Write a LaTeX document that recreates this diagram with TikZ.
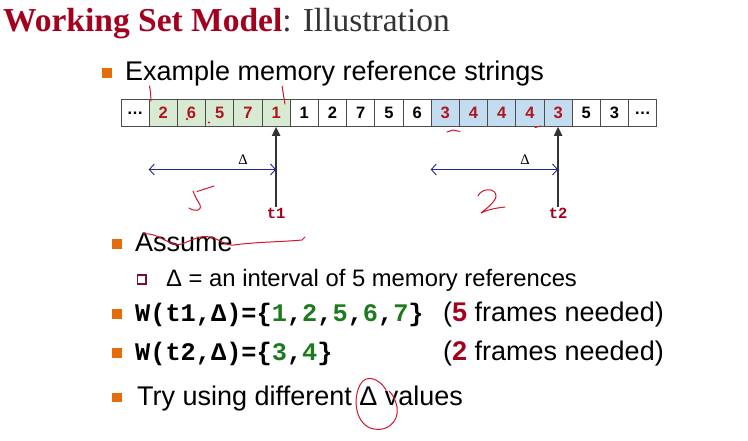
\documentclass[tikz,border=0pt]{standalone}
\usepackage{fontspec}
\setmainfont{Liberation Sans}
\newfontfamily\titlefont{Liberation Serif}
\newfontfamily\codefont{Liberation Mono}
\usetikzlibrary{arrows.meta,positioning,calc}
\definecolor{slidered}{HTML}{A3001E}
\definecolor{slidegray}{HTML}{333333}
\definecolor{bulletorange}{HTML}{E46C0A}
\definecolor{subbullet}{HTML}{7A1030}
\definecolor{cellgreen}{HTML}{D8EAD2}
\definecolor{cellblue}{HTML}{C4DCF0}
\definecolor{numred}{HTML}{B0141E}
\definecolor{setgreen}{HTML}{1E7A1E}
\definecolor{deltablue}{HTML}{23288C}
\definecolor{inkred}{HTML}{D4152B}

\tikzset{
  txt/.style={anchor=base west,inner sep=0pt,font=\fontsize{27}{32}\selectfont},
  subtxt/.style={anchor=base west,inner sep=0pt,font=\fontsize{23.8}{28}\selectfont},
  codetxt/.style={anchor=base west,inner sep=0pt,font=\codefont\bfseries\fontsize{25.3}{30}\selectfont},
  bulletsq/.style={fill=bulletorange,minimum size=9.5pt,inner sep=0pt},
  cell/.style={draw=black!70,line width=1pt,minimum width=28.2pt,minimum height=26.5pt,inner sep=0pt,font=\bfseries\fontsize{16.5}{17}\selectfont},
  timelbl/.style={text=slidered,inner sep=1pt,font=\codefont\bfseries\fontsize{15.5}{16}\selectfont},
  timearrow/.style={draw=black!80,line width=2pt,-{Triangle[length=9pt,width=8pt]}},
  deltaarrow/.style={draw=deltablue,line width=0.9pt,{Straight Barb[length=5pt,width=11pt]}-{Straight Barb[length=5pt,width=11pt]}},
  deltalbl/.style={inner sep=0pt,font=\titlefont\fontsize{14.5}{15}\selectfont},
  ink/.style={draw=inkred,line width=1pt,line cap=round,line join=round}
}

\begin{document}
\begin{tikzpicture}[x=1pt,y=-1pt]
  \useasboundingbox (0,0) rectangle (748,440);

  \node[anchor=base west,inner sep=0pt,font=\titlefont\fontsize{33.5}{40}\selectfont] (title) at (3,31.7)
    {\textcolor{slidered}{\bfseries Working Set Model}\textcolor{slidegray}{: Illustration}};

  \node[bulletsq,minimum size=10pt] (b0) at (106.7,73) {};
  \node[txt] (example) at (125,80.7) {Example memory reference strings};

  \foreach \val/\bg/\fg [count=\i from 0] in {…/white/black,
      2/cellgreen/numred,6/cellgreen/numred,5/cellgreen/numred,7/cellgreen/numred,1/cellgreen/numred,
      1/white/black,2/white/black,7/white/black,5/white/black,6/white/black,
      3/cellblue/numred,4/cellblue/numred,4/cellblue/numred,4/cellblue/numred,3/cellblue/numred,
      5/white/black,3/white/black,…/white/black}
    \node[cell,fill=\bg,text=\fg] (c\i) at ({121+(\i+0.5)*28.2},113) {\val};

  \node[timelbl] (t1) at (c5.center |- 0,213) {t1};
  \node[timelbl] (t2) at (c15.center |- 0,213) {t2};
  \draw[timearrow] (t1.north) -- (c5.south);
  \draw[timearrow] (t2.north) -- (c15.south);

  \coordinate (d1l) at (c1.south west |- 0,169.5);
  \coordinate (d1r) at (c5.south |- 0,169.5);
  \coordinate (d2l) at (c11.south west |- 0,169.5);
  \coordinate (d2r) at (c15.south |- 0,169.5);
  \draw[deltaarrow] (d1l) -- (d1r);
  \draw[deltaarrow] (d2l) -- (d2r);
  \node[deltalbl] (delta1) at ($(d1r)+(-33,-9.5)$) {Δ};
  \node[deltalbl] (delta2) at ($(d2r)+(-33,-9.5)$) {Δ};

  \node[bulletsq] (b1) at (117,244) {};
  \node[txt] (assume) at (135,251.7) {Assume};

  \node[draw=subbullet,line width=1.6pt,fill=white,minimum size=8.5pt,inner sep=0pt] (b2) at (141.7,279.5) {};
  \node[subtxt] (interval) at (166,286.7) {Δ = an interval of 5 memory references};

  \node[bulletsq] (b3) at (117,314) {};
  \node[codetxt] (w1) at (135,321.7)
    {W(t1,Δ)=\{\textcolor{setgreen}{1},\textcolor{setgreen}{2},\textcolor{setgreen}{5},\textcolor{setgreen}{6},\textcolor{setgreen}{7}\}};
  \node[txt] (n1) at (443,321.7) {(\textcolor{slidered}{\bfseries 5} frames needed)};

  \node[bulletsq] (b4) at (117,353) {};
  \node[codetxt] (w2) at (135,360.7)
    {W(t2,Δ)=\{\textcolor{setgreen}{3},\textcolor{setgreen}{4}\}};
  \node[txt] (n2) at (443,360.7) {(\textcolor{slidered}{\bfseries 2} frames needed)};

  \node[bulletsq] (b5) at (117,397.5) {};
  \node[txt] (try) at (137,405) {Try using different Δ values};

  \draw[ink] (149.5,86) .. controls (150.5,92) .. (151,101);
  \draw[ink] (282,86) .. controls (283.5,95) .. (285,104);
  \fill[inkred] (187,119) circle (1.3);
  \fill[inkred] (209,122.5) circle (1.1);
  \draw[ink] (447,132) -- (453,130) -- (460,131.5);
  \draw[ink] (535,127.5) -- (541,126);
  \draw[ink] (214,186) -- (197,191.5);
  \draw[ink] (193,191) .. controls (195,197) and (198,201) .. (200,205) .. controls (202,211) and (195,212) .. (189,208);
  \draw[ink] (478,196) .. controls (481,188) and (497,187) .. (496,197) .. controls (494,203) and (486,209) .. (481,213) .. controls (489,209) and (497,208) .. (505,207);
  \draw[ink] (143,234) .. controls (160,232) and (170,248) .. (182,244) .. controls (192,240) and (200,235) .. (210,237) .. controls (220,239) and (225,246) .. (234,245) .. controls (255,242) and (280,242) .. (302,240) -- (305,237);
  \draw[ink] (386,390) .. controls (380,379) and (366,373) .. (360,385) .. controls (352,400) and (356,426) .. (374,429) .. controls (392,432) and (401,416) .. (396,403) .. controls (394,397) and (392,394) .. (389,391);
\end{tikzpicture}
\end{document}
